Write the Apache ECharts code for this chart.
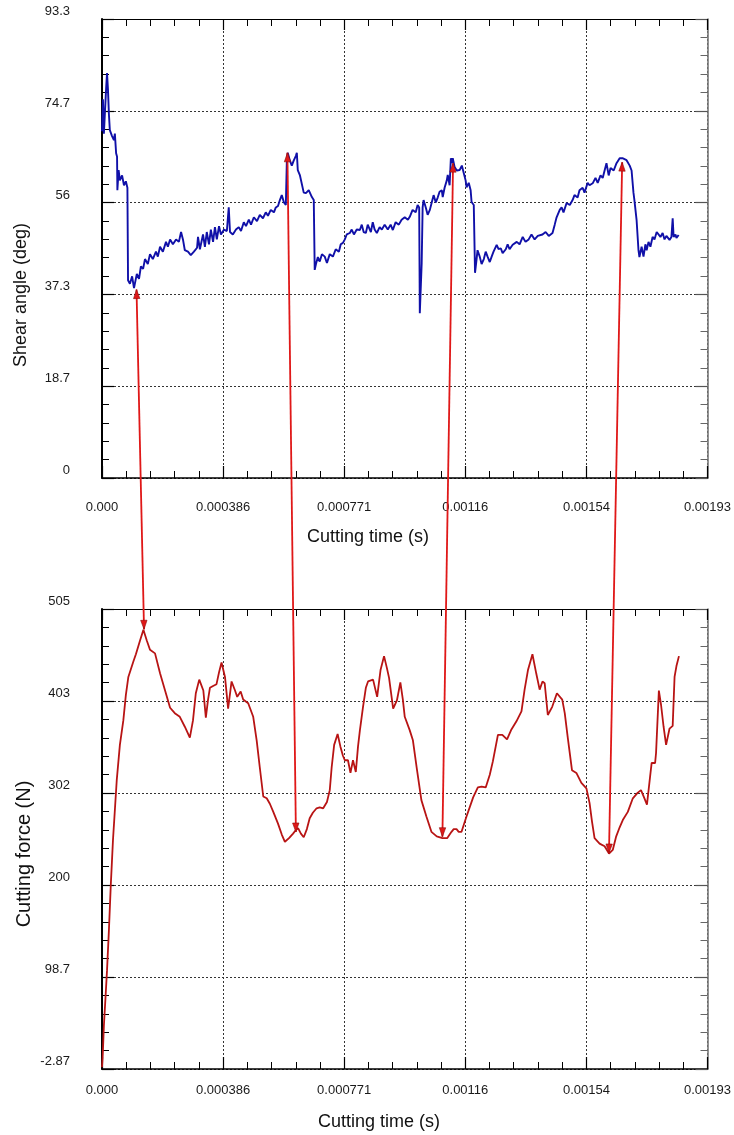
<!DOCTYPE html>
<html><head><meta charset="utf-8">
<script src="https://cdn.jsdelivr.net/npm/echarts@6/dist/echarts.min.js"></script>
<style>html,body{margin:0;padding:0;background:#fff}#c{width:734px;height:1135px}</style>
</head><body><div id="c"></div>
<script>
// Tick labels
const timeTickLabels = ['0.000','0.000386','0.000771','0.00116','0.00154','0.00193'];
const shearTickLabels = ['0','18.7','37.3','56','74.7','93.3'];
const forceTickLabels = ['-2.87','98.7','200','302','403','505'];

// Shear angle series (time in microseconds, angle in deg)
const shearTime = [0,3,6,13,16,19,22,25,32,38,
41,45,48,49,53,57,64,70,76,81,
83,89,96,102,105,111,118,124,131,137,
146,153,162,172,178,185,194,204,210,217,
226,236,245,252,258,264,274,283,293,303,
306,312,322,328,334,341,347,354,360,366,
373,379,389,398,404,408,417,427,436,443,
452,459,468,475,484,494,503,513,522,529,
538,548,554,561,567,573,580,586,589,592,
599,605,611,618,621,624,631,637,643,650,
659,669,675,678,682,688,694,701,710,717,
726,736,745,755,761,768,774,780,790,796,
803,812,822,828,834,841,847,857,863,869,
876,885,892,901,911,920,927,936,946,955,
965,975,981,990,1000,1006,1011,1013,1018,1019,
1022,1025,1032,1038,1045,1051,1057,1064,1070,1076,
1083,1086,1092,1099,1102,1108,1112,1115,1118,1124,
1131,1140,1147,1153,1159,1162,1169,1175,1178,1185,
1188,1189,1194,1197,1204,1210,1217,1223,1229,1236,
1242,1248,1258,1264,1271,1277,1287,1293,1299,1309,
1315,1322,1331,1341,1350,1360,1369,1379,1389,1395,
1404,1414,1424,1430,1436,1443,1449,1459,1465,1471,
1481,1491,1500,1506,1516,1522,1532,1538,1548,1554,
1564,1573,1580,1589,1596,1602,1608,1615,1621,1631,
1640,1650,1659,1672,1682,1688,1694,1697,1704,1710,
1713,1720,1726,1732,1736,1742,1748,1755,1761,1768,
1774,1780,1787,1793,1799,1809,1815,1819,1822,1828,
1831,1838];
const shearAngle = [70.5,77,70,79,82.3,79,74,70.7,69.5,68.7,
70,66,65.3,58.5,62.6,60.5,61.5,59.5,60.3,59,
40.2,39.5,41,38.6,38.2,41.5,40.5,43,42.5,44.5,
43.5,45.5,44.5,46,45,47,46,48,47,48.5,
47.5,48.5,48,50,48.5,46.3,46,45.3,46,46.8,
49,46.5,49.5,47,50,47.5,50.5,48,51,48.5,
51.2,49.5,50.5,50.2,55,50,49.5,50.5,51,50.2,
52,51.2,52.5,51.5,53,52.2,53.5,52.8,54,53.3,
54.5,54,55,55.3,56.5,57.5,56,55.5,64,66.1,
64.5,63.5,64.5,65.5,66.1,62.6,61.5,61.5,58,57.9,
58.5,57.1,56.5,42.3,43.5,44.9,44,45.5,45,43.7,
45.5,45,46.5,46,47.5,47.8,48.5,49.5,49.8,50.5,
49.5,50.5,50.4,51.5,50,49.8,51.5,50,52,50.5,
49.8,51,50.5,51.5,50.5,51.5,50.4,52,51.5,52.5,
53,52.5,53.1,54.5,54,55.5,55,33.5,33.5,43.7,
55,56.5,55,53.5,54.5,56,57.5,56,57,58.2,
58.5,57.1,59,60.5,61.6,59.5,65,64,65,63.2,
62.5,62.6,63.5,62,60.5,59.1,60,58.5,56.1,55.5,
55.1,41.7,44.5,46.3,45,43.5,44.5,46,45,43.9,
45,46,47.4,46.5,46.7,45.7,46.5,47.5,46.5,47.4,
47,48,47.5,49,48,48.5,49.5,48.5,49.2,48.8,
49.5,50,49.2,49.5,49.8,51.5,53,54.5,55,54,
55.9,55.5,56.5,57.5,57,58.5,59,58,60,59.5,
59.9,61,60,61.5,61,62.5,64,61.5,63,62.5,
64,65,65,64.6,63.5,62.5,58,56.5,52.4,46.3,
44.9,47,45,47.5,46.3,48,47,49,48.5,50,
50.4,49,49.8,48.5,49.2,48.4,49,52.8,49,49.5,
48.8,49.4];

// Cutting force series (time in microseconds, force in N)
const forceTime = [0,2,3,6,11,16,22,28,35,47,
57,68,76,84,100,108,121,132,143,153,
169,185,201,217,232,248,264,280,290,299,
310,315,323,331,338,344,354,365,373,381,
392,402,413,424,431,442,450,466,482,493,
503,514,525,535,546,561,573,583,596,609,
618,625,634,643,653,662,672,684,694,705,
717,726,732,740,751,760,768,774,784,792,
800,809,816,822,832,841,848,854,864,877,
888,899,908,915,928,940,951,959,965,981,
991,1003,1018,1034,1050,1067,1085,1100,1114,1121,
1130,1137,1146,1161,1183,1198,1210,1223,1236,1246,
1262,1276,1291,1305,1321,1337,1347,1358,1372,1384,
1395,1404,1411,1421,1435,1450,1467,1475,1485,1498,
1512,1528,1544,1554,1562,1570,1586,1602,1616,1628,
1639,1650,1660,1676,1692,1707,1718,1729,1737,1747,
1752,1763,1766,1775,1782,1790,1798,1809,1819,1825,
1831,1839];
const forceValue = [-1,10,18,45,75,106,150,200,250,316,
355,382,410,430,447,455,470,482,470,460,
456,434,415,396,390,386,375,363,382,412,
427,425,415,385,405,418,420,422,435,446,
430,395,425,415,408,414,405,401,386,360,
330,298,296,290,281,268,256,248,252,257,
261,263,257,253,262,274,280,285,286,285,
292,305,330,355,367,353,343,338,338,324,
338,325,353,371,397,418,425,427,427,408,
438,453,440,429,395,404,424,405,386,371,
360,330,294,276,259,254,252,252,259,262,
262,259,259,275,297,308,309,308,322,337,
366,366,361,372,381,392,416,438,455,434,
416,425,423,388,397,412,405,390,362,327,
324,313,307,291,270,252,246,243,235,239,
254,264,272,281,296,302,305,296,289,320,
335,335,346,415,399,375,355,373,376,430,
442,453];

// Annotation arrows: [time µs, shear angle] on top, [time µs, force] on bottom
const arrowTop = [[110,38.3],[591,66.1],[1119,64.0],[1658,64.2]];
const arrowBottom = [[134,482.6],[618,258.8],[1085,253.6],[1616,235.6]];

const FONT = '"Liberation Sans", Arial, Helvetica, sans-serif';
const TIME_INT = 386, SHEAR_INT = 18.66, FORCE_INT = 101.574;
const dash = {color:'#333', width:1, type:[2,2]};

function xAxes(grid) {
  return [
    {gridIndex:grid, type:'value', position:'bottom', min:0, max:1930, interval:TIME_INT,
     axisLine:{show:true, onZero:false, lineStyle:{color:'#000', width:1.6}},
     axisTick:{show:true, inside:true, length:12, lineStyle:{color:'#000', width:1.2}},
     minorTick:{show:true, splitNumber:5, length:7, lineStyle:{color:'#000', width:1}},
     splitLine:{show:true, lineStyle:dash}, minorSplitLine:{show:false},
     axisLabel:{show:true, margin: grid === 0 ? 23 : 15, fontSize:13, color:'#1a1a1a', fontFamily:FONT,
       formatter:(v)=>timeTickLabels[Math.round(v/TIME_INT)]}},
    {gridIndex:grid, type:'value', position:'top', min:0, max:1930, interval:TIME_INT,
     axisLine:{show:true, onZero:false, lineStyle:{color:'#000', width:1.2}},
     axisTick:{show:true, inside:true, length:11, lineStyle:{color:'#000', width:1.2}},
     minorTick:{show:true, splitNumber:5, length:7, lineStyle:{color:'#000', width:1}},
     splitLine:{show:false}, axisLabel:{show:false}}
  ];
}
function yPair(grid, max, interval, labels) {
  return [
    {gridIndex:grid, type:'value', position:'left', min:0, max:max, interval:interval,
     axisLine:{show:true, onZero:false, lineStyle:{color:'#000', width:2}},
     axisTick:{show:true, inside:true, length:12, lineStyle:{color:'#000', width:1.2}},
     minorTick:{show:true, splitNumber:5, length:7, lineStyle:{color:'#000', width:1}},
     splitLine:{show:true, lineStyle:dash},
     axisLabel:{show:true, margin:32, fontSize:13, color:'#1a1a1a', fontFamily:FONT, verticalAlign:'bottom',
       padding:[0,0,1,0],
       formatter:(v)=>labels[Math.round(v/interval)]}},
    {gridIndex:grid, type:'value', position:'right', min:0, max:max, interval:interval,
     axisLine:{show:true, onZero:false, lineStyle:{color:'#777', width:1.6}},
     axisTick:{show:true, inside:true, length:12, lineStyle:{color:'#555', width:1.2}},
     minorTick:{show:true, splitNumber:5, length:7, lineStyle:{color:'#666', width:1}},
     splitLine:{show:false}, axisLabel:{show:false}}
  ];
}

const chart = echarts.init(document.getElementById('c'), null, {renderer:'canvas'});
const yTop = yPair(0, 93.3, SHEAR_INT, shearTickLabels);
const yBot = yPair(1, FORCE_INT*5, FORCE_INT, forceTickLabels);
chart.setOption({
  animation:false,
  backgroundColor:'#fff',
  grid:[
    {left:102, top:19, width:606, height:459},
    {left:102, top:609, width:606, height:460}
  ],
  xAxis:[...xAxes(0), ...xAxes(1)],
  yAxis:[
    yTop[0], yTop[1],
    // data axis for force (hidden), spans same pixel range as the decorative axis
    {gridIndex:1, type:'value', position:'left', min:-2.87, max:505, show:false},
    yBot[0], yBot[1]
  ],
  series:[
    {type:'line', xAxisIndex:0, yAxisIndex:0, showSymbol:false, symbol:'none',
     lineStyle:{color:'#1010a8', width:1.9}, z:5,
     data: shearTime.map((t,i)=>[t, shearAngle[i]])},
    {type:'line', xAxisIndex:2, yAxisIndex:2, showSymbol:false, symbol:'none',
     lineStyle:{color:'#b81414', width:1.8}, z:5,
     data: forceTime.map((t,i)=>[t, forceValue[i]])}
  ]
});

function head(tip, from) {
  const dx = tip[0]-from[0], dy = tip[1]-from[1];
  const L = Math.hypot(dx,dy), ux = dx/L, uy = dy/L;
  const len = 9, w = 3.2;
  return [tip, [tip[0]-ux*len-uy*w, tip[1]-uy*len+ux*w], [tip[0]-ux*len+uy*w, tip[1]-uy*len-ux*w]];
}
const graphics = [];
arrowTop.forEach((a,i)=>{
  const p1 = chart.convertToPixel({xAxisIndex:0, yAxisIndex:0}, a);
  const p2 = chart.convertToPixel({xAxisIndex:2, yAxisIndex:2}, arrowBottom[i]);
  graphics.push({type:'line', z:100, shape:{x1:p1[0], y1:p1[1], x2:p2[0], y2:p2[1]},
    style:{stroke:'#e01818', lineWidth:1.8}});
  graphics.push({type:'polygon', z:101, shape:{points:head(p1,p2)}, style:{fill:'#e01818', stroke:'#8a0c0c', lineWidth:0.6}});
  graphics.push({type:'polygon', z:101, shape:{points:head(p2,p1)}, style:{fill:'#e01818', stroke:'#8a0c0c', lineWidth:0.6}});
});
const tstyle = (txt, size)=>({text:txt, fontSize:size, fontFamily:FONT, fill:'#111', align:'center', verticalAlign:'middle'});
graphics.push({type:'text', x:21, y:295, rotation:Math.PI/2, style:tstyle('Shear angle (deg)', 18)});
graphics.push({type:'text', x:24, y:854, rotation:Math.PI/2, style:tstyle('Cutting force (N)', 20)});
graphics.push({type:'text', x:368, y:537, style:tstyle('Cutting time (s)', 18)});
graphics.push({type:'text', x:379, y:1122, style:tstyle('Cutting time (s)', 18)});
chart.setOption({graphic:graphics});
</script></body></html>
